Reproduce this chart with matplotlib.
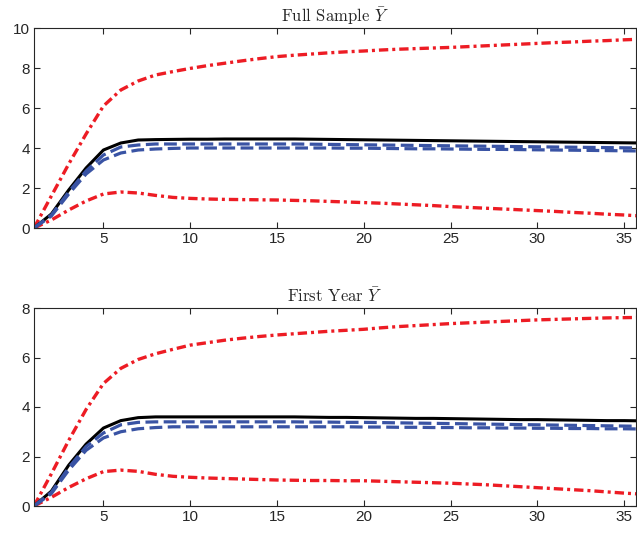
import numpy as np
import matplotlib
matplotlib.use("Agg")
import matplotlib.pyplot as plt

plt.rcParams["font.family"] = ["Liberation Sans", "DejaVu Sans"]
plt.rcParams["mathtext.fontset"] = "cm"

horizon = np.arange(1, 37)

# Full sample responses
full_point = [0, 0.7, 1.9, 3.0, 3.9, 4.25, 4.4, 4.42, 4.43, 4.44, 4.44, 4.45, 4.45, 4.45, 4.45, 4.45,
              4.44, 4.43, 4.42, 4.41, 4.40, 4.39, 4.38, 4.37, 4.36, 4.35, 4.34, 4.33, 4.32, 4.31,
              4.30, 4.29, 4.28, 4.27, 4.26, 4.25]
full_alt1 = [0, 0.65, 1.8, 2.85, 3.65, 4.05, 4.15, 4.2, 4.2, 4.2, 4.2, 4.2, 4.2, 4.2, 4.2, 4.2,
             4.19, 4.18, 4.17, 4.16, 4.15, 4.14, 4.13, 4.12, 4.11, 4.10, 4.09, 4.08, 4.07, 4.06,
             4.05, 4.04, 4.03, 4.02, 4.01, 4.0]
full_alt2 = [0, 0.6, 1.7, 2.7, 3.4, 3.75, 3.9, 3.95, 3.98, 4.0, 4.0, 4.0, 4.0, 4.0, 4.0, 4.0,
             4.0, 4.0, 3.99, 3.99, 3.98, 3.97, 3.96, 3.96, 3.95, 3.94, 3.93, 3.93, 3.92, 3.91,
             3.90, 3.89, 3.88, 3.87, 3.86, 3.85]
full_upper = [0, 1.6, 3.2, 4.7, 6.1, 6.9, 7.35, 7.65, 7.82, 7.98, 8.12, 8.24, 8.36, 8.47, 8.57, 8.64,
              8.7, 8.76, 8.81, 8.85, 8.9, 8.94, 8.97, 9.0, 9.03, 9.07, 9.11, 9.15, 9.19, 9.23,
              9.27, 9.3, 9.34, 9.37, 9.41, 9.44]
full_lower = [0, 0.4, 0.9, 1.35, 1.7, 1.8, 1.75, 1.63, 1.53, 1.48, 1.45, 1.43, 1.42, 1.41, 1.4, 1.38,
              1.36, 1.33, 1.3, 1.27, 1.24, 1.2, 1.16, 1.12, 1.07, 1.03, 0.99, 0.95, 0.91, 0.87,
              0.83, 0.78, 0.74, 0.69, 0.65, 0.6]

# First-year responses
first_point = [0, 0.6, 1.65, 2.5, 3.15, 3.45, 3.57, 3.6, 3.6, 3.6, 3.6, 3.6, 3.6, 3.6, 3.6, 3.6,
               3.59, 3.58, 3.58, 3.57, 3.56, 3.55, 3.54, 3.54, 3.53, 3.52, 3.51, 3.5, 3.49, 3.49,
               3.48, 3.47, 3.46, 3.45, 3.45, 3.44]
first_alt1 = [0, 0.55, 1.55, 2.4, 2.95, 3.28, 3.38, 3.4, 3.4, 3.4, 3.4, 3.4, 3.4, 3.4, 3.4, 3.4,
              3.39, 3.39, 3.38, 3.38, 3.37, 3.36, 3.35, 3.34, 3.33, 3.32, 3.31, 3.3, 3.29, 3.28,
              3.27, 3.26, 3.25, 3.24, 3.23, 3.22]
first_alt2 = [0, 0.5, 1.45, 2.25, 2.75, 3.0, 3.12, 3.17, 3.2, 3.2, 3.2, 3.2, 3.2, 3.2, 3.2, 3.2,
              3.2, 3.2, 3.2, 3.19, 3.19, 3.18, 3.18, 3.17, 3.17, 3.16, 3.16, 3.15, 3.15, 3.14,
              3.14, 3.13, 3.13, 3.12, 3.12, 3.11]
first_upper = [0, 1.3, 2.65, 3.9, 4.95, 5.56, 5.92, 6.15, 6.33, 6.5, 6.6, 6.7, 6.78, 6.85, 6.91, 6.96,
               7.01, 7.06, 7.1, 7.14, 7.2, 7.25, 7.29, 7.33, 7.37, 7.4, 7.43, 7.46, 7.49, 7.52,
               7.54, 7.56, 7.58, 7.6, 7.61, 7.62]
first_lower = [0, 0.35, 0.75, 1.1, 1.39, 1.45, 1.4, 1.28, 1.2, 1.16, 1.13, 1.11, 1.09, 1.07, 1.05, 1.04,
               1.03, 1.03, 1.02, 1.02, 1.0, 0.98, 0.96, 0.94, 0.92, 0.89, 0.86, 0.82, 0.78, 0.74,
               0.7, 0.66, 0.62, 0.57, 0.52, 0.48]

titles = ["Full Sample $\\bar{Y}$", "First Year $\\bar{Y}$"]
yticks = [np.arange(0, 11, 2), np.arange(0, 9, 2)]
panels = [(full_point, full_alt1, full_alt2, full_upper, full_lower),
          (first_point, first_alt1, first_alt2, first_upper, first_lower)]

red = "#ED1C24"
blue = "#3953A4"
axcol = "#262626"

fig = plt.figure(figsize=(6.37, 5.33), dpi=100)
rects = [[34 / 637, 1 - 228 / 533, 601.5 / 637, 200 / 533],
         [34 / 637, 1 - 506 / 533, 601.5 / 637, 198 / 533]]

for rect, title, yt, (pt, a1, a2, up, lo) in zip(rects, titles, yticks, panels):
    ax = fig.add_axes(rect)
    ax.plot(horizon, up, color=red, lw=2.4, dashes=(2.8, 1.2, 0.9, 1.2))
    ax.plot(horizon, lo, color=red, lw=2.4, dashes=(2.8, 1.2, 0.9, 1.2))
    ax.plot(horizon, pt, color="black", lw=2.2)
    ax.plot(horizon, a1, color=blue, lw=2.3, dashes=(4.0, 1.7))
    ax.plot(horizon, a2, color=blue, lw=2.3, dashes=(4.0, 1.7))
    ax.set_xlim(1, 35.65)
    ax.set_ylim(yt[0], yt[-1])
    ax.set_xticks([5, 10, 15, 20, 25, 30, 35])
    ax.set_yticks(yt)
    ax.tick_params(direction="in", top=True, right=True, length=4, width=0.8,
                   labelsize=11, colors=axcol, pad=3)
    for s in ax.spines.values():
        s.set_color(axcol)
        s.set_linewidth(0.8)
    ax.set_title(title, fontsize=12, family="cmr10", color=axcol, pad=4)

fig.savefig("out.png", dpi=100)
